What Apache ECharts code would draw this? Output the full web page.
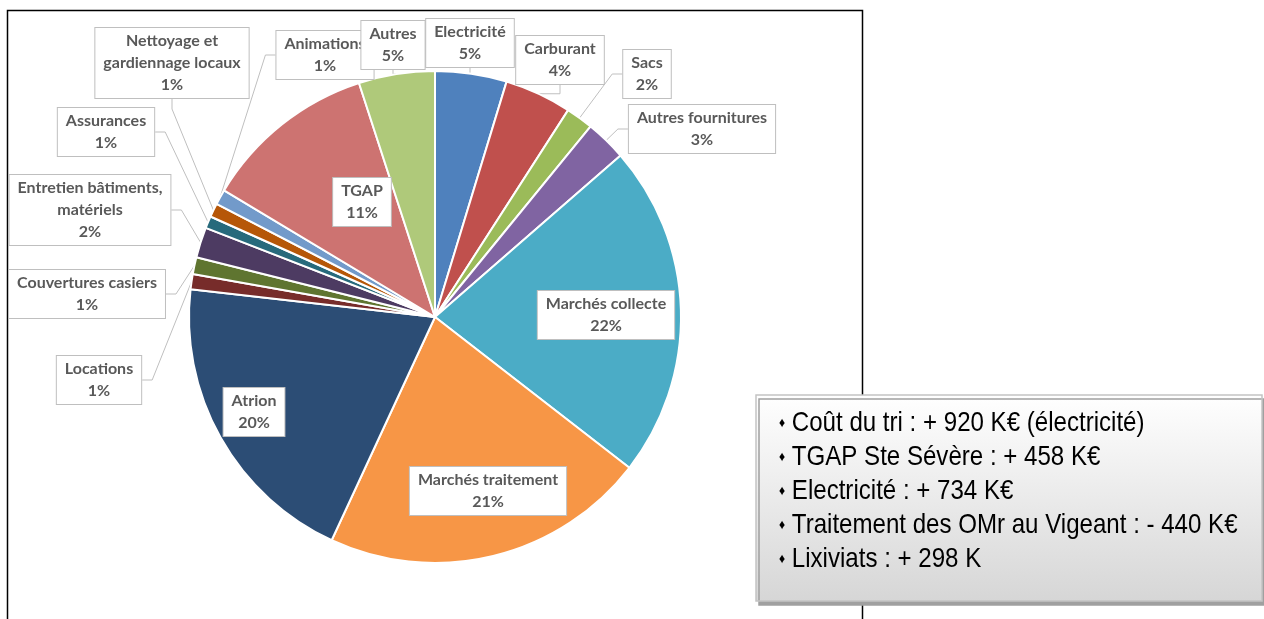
<!DOCTYPE html>
<html>
<head>
<meta charset="utf-8">
<script src="https://cdn.jsdelivr.net/npm/echarts@6/dist/echarts.min.js"></script>
<style>
  html, body { margin: 0; padding: 0; background: #fff; }
  #chart { width: 1264px; height: 619px; }
</style>
</head>
<body>
<div id="chart"></div>
<script>
// postes de dépenses, dans l'ordre du camembert (sens horaire depuis midi)
const categories = [
  'Electricité', 'Carburant', 'Sacs', 'Autres fournitures', 'Marchés collecte',
  'Marchés traitement', 'Atrion', 'Locations', 'Couvertures casiers',
  'Entretien bâtiments,\nmatériels', 'Assurances', 'Nettoyage et\ngardiennage locaux',
  'Animations', 'TGAP', 'Autres'
]
const values = [4.7, 4.4, 1.8, 2.7, 21.9, 21.4, 19.9, 1.0, 1.1, 2.0, 0.8, 0.9, 1.0, 11.4, 5.0]
const colors = [
  '#4F81BD', '#C0504D', '#9BBB59', '#8064A2', '#4BACC6',
  '#F79646', '#2C4D75', '#772C2A', '#5F7530', '#4D3B62',
  '#276A7C', '#B65708', '#729ACA', '#CD7371', '#AFC97A'
]
const insideLabels = ['Marchés collecte', 'Marchés traitement', 'Atrion', 'TGAP']
const notes = [
  'Coût du tri : + 920 K€ (électricité)',
  'TGAP Ste Sévère : + 458 K€',
  'Electricité : + 734 K€',
  'Traitement des OMr au Vigeant : - 440 K€',
  'Lixiviats : + 298 K'
]

// emplacement des étiquettes (centre de la boîte), comme dans l'original
const labelPos = [
  [470, 43], [560, 60], [647, 74], [702, 129], [606, 315],
  [488, 491], [254, 412], [99, 380], [87, 294], [90, 210],
  [106, 132], [172, 63], [325, 55], [362, 202], [393, 45]
]

const chart = echarts.init(document.getElementById('chart'))

const pieData = categories.map((name, i) => {
  const inside = insideLabels.includes(name)
  return {
    name: name,
    value: values[i],
    itemStyle: { color: colors[i] },
    label: { position: inside ? 'inside' : 'outside' },
    labelLine: { show: !inside }
  }
})

const option = {
  animation: false,
  graphic: [
    {
      type: 'rect',
      shape: { x: 7.5, y: 10.5, width: 855, height: 640 },
      style: { fill: 'none', stroke: '#000', lineWidth: 1.5 },
      z: 0
    },
    {
      type: 'rect',
      shape: { x: 756, y: 395, width: 506, height: 206 },
      style: {
        fill: new echarts.graphic.LinearGradient(0, 0, 0, 1, [
          { offset: 0, color: '#ffffff' },
          { offset: 1, color: '#d6d6d6' }
        ]),
        stroke: '#c4c4c4',
        lineWidth: 1.5,
        shadowColor: '#a0a0a0',
        shadowOffsetX: 3,
        shadowOffsetY: 4,
        shadowBlur: 0
      },
      z: 10
    },
    {
      type: 'text',
      x: 779,
      y: 406,
      scaleX: 0.86,
      z: 11,
      style: {
        text: notes.map(n => '{b|\u2666} ' + n).join('\n'),
        font: '28px "Liberation Sans Narrow", "Arial Narrow", "Liberation Sans", sans-serif',
        fill: '#000',
        lineHeight: 34,
        rich: {
          b: { fontSize: 14, lineHeight: 34, fill: '#000' }
        }
      }
    }
  ],
  series: [
    {
      type: 'pie',
      center: [435, 317],
      radius: 246,
      startAngle: 90,
      clockwise: true,
      avoidLabelOverlap: false,
      data: pieData,
      itemStyle: { borderColor: '#fff', borderWidth: 2 },
      label: {
        formatter: p => p.name + '\n' + Math.round(p.percent) + '%',
        fontFamily: 'Lato',
        fontWeight: 'bold',
        fontSize: 16,
        lineHeight: 22,
        color: '#595959',
        backgroundColor: '#fff',
        borderColor: '#bfbfbf',
        borderWidth: 1,
        padding: [2, 8],
        align: 'center'
      },
      labelLine: {
        lineStyle: { color: '#bfbfbf', width: 1 },
        length: 15,
        length2: 10
      },
      labelLayout: function (params) {
        const pos = labelPos[params.dataIndex]
        return { x: pos[0], y: pos[1], align: 'center', verticalAlign: 'middle' }
      }
    }
  ]
}

chart.setOption(option)
</script>
</body>
</html>
